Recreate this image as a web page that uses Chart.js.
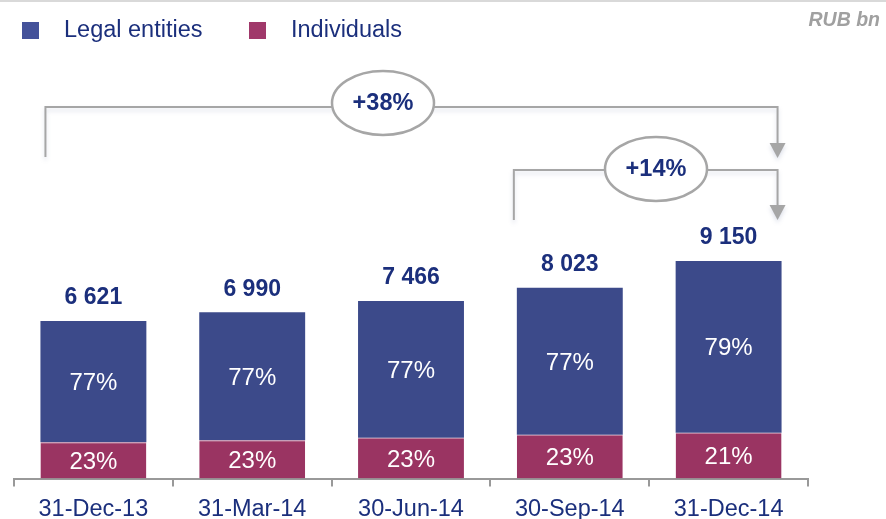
<!DOCTYPE html>
<html>
<head>
<meta charset="utf-8">
<script src="https://cdn.jsdelivr.net/npm/chart.js@4/dist/chart.umd.min.js"></script>
<style>
  html, body { margin: 0; padding: 0; background: #fff; }
  #wrap { width: 886px; height: 519px; position: relative; }
</style>
</head>
<body>
<div id="wrap"><canvas id="portfolio"></canvas></div>
<script>
const categories = ["31-Dec-13", "31-Mar-14", "30-Jun-14", "30-Sep-14", "31-Dec-14"];
const totals = [6621, 6990, 7466, 8023, 9150];
const legalEntities = [5098, 5382, 5749, 6178, 7229];
const individuals = [1523, 1608, 1717, 1845, 1921];
const legalPct = ["77%", "77%", "77%", "77%", "79%"];
const indivPct = ["23%", "23%", "23%", "23%", "21%"];
const growthLabels = ["+38%", "+14%"];

const NAVY = "#1b2f7c";
const GREY = "#a6a6a6";
const FONT = "'Liberation Sans', Arial, sans-serif";

const fmt = (v) => String(v).replace(/\B(?=(\d{3})+(?!\d))/g, " ");

const decor = {
  id: "decor",
  afterDatasetsDraw(chart) {
    const { ctx } = chart;
    const top = chart.getDatasetMeta(1);
    const bottom = chart.getDatasetMeta(0);

    ctx.save();
    ctx.textAlign = "center";
    ctx.textBaseline = "middle";

    // percent labels inside segments
    ctx.fillStyle = "#fff";
    ctx.font = "24px " + FONT;
    top.data.forEach((bar, i) => {
      ctx.fillText(legalPct[i], bar.x, (bar.y + bar.base) / 2 + 2);
    });
    bottom.data.forEach((bar, i) => {
      ctx.fillText(indivPct[i], bar.x, (bar.y + bar.base) / 2 + 2);
    });

    // totals above bars
    ctx.fillStyle = NAVY;
    ctx.font = "bold 23px " + FONT;
    top.data.forEach((bar, i) => {
      ctx.fillText(fmt(totals[i]), bar.x, bar.y - 23);
    });

    // growth brackets
    const b0 = top.data[0], b3 = top.data[3], b4 = top.data[4];
    const rightX = b4.x + b4.width / 2 - 4;
    drawBracket(ctx, b0.x - b0.width / 2 + 5, 157, 107, rightX, 158);
    drawBracket(ctx, b3.x - b3.width / 2 - 3, 220, 170, rightX, 220);
    drawBubble(ctx, 383, 103, 51, 32, growthLabels[0]);
    drawBubble(ctx, 656, 169, 51, 32, growthLabels[1]);

    ctx.restore();
  },
  afterDraw(chart) {
    const { ctx } = chart;
    ctx.save();
    // top rule
    ctx.strokeStyle = "#d9d9d9";
    ctx.lineWidth = 2;
    ctx.beginPath();
    ctx.moveTo(0, 1);
    ctx.lineTo(886, 1);
    ctx.stroke();

    // legend
    ctx.textBaseline = "middle";
    ctx.textAlign = "left";
    ctx.font = "23.5px " + FONT;
    ctx.fillStyle = "#44529a";
    ctx.fillRect(22, 22, 17, 17);
    ctx.fillStyle = NAVY;
    ctx.fillText("Legal entities", 64, 31);
    ctx.fillStyle = "#a0386a";
    ctx.fillRect(249, 22, 17, 17);
    ctx.fillStyle = NAVY;
    ctx.fillText("Individuals", 291, 31);

    // unit
    ctx.textAlign = "right";
    ctx.fillStyle = "#a0a0a0";
    ctx.font = "italic bold 19.5px " + FONT;
    ctx.fillText("RUB bn", 880, 21);
    ctx.restore();
  }
};

function drawBracket(ctx, x1, y1, yTop, x2, yTip) {
  ctx.save();
  ctx.shadowColor = "rgba(120,130,170,0.25)";
  ctx.shadowBlur = 4;
  ctx.shadowOffsetY = 3;
  ctx.strokeStyle = GREY;
  ctx.lineWidth = 2;
  ctx.beginPath();
  ctx.moveTo(x1, y1);
  ctx.lineTo(x1, yTop);
  ctx.lineTo(x2, yTop);
  ctx.lineTo(x2, yTip - 12);
  ctx.stroke();
  ctx.fillStyle = GREY;
  ctx.beginPath();
  ctx.moveTo(x2 - 8, yTip - 15);
  ctx.lineTo(x2 + 8, yTip - 15);
  ctx.lineTo(x2, yTip);
  ctx.closePath();
  ctx.fill();
  ctx.restore();
}

function drawBubble(ctx, cx, cy, rx, ry, text) {
  ctx.save();
  ctx.fillStyle = "#fff";
  ctx.strokeStyle = GREY;
  ctx.lineWidth = 2.5;
  ctx.beginPath();
  ctx.ellipse(cx, cy, rx, ry, 0, 0, Math.PI * 2);
  ctx.fill();
  ctx.stroke();
  ctx.fillStyle = NAVY;
  ctx.font = "bold 23.5px " + FONT;
  ctx.textAlign = "center";
  ctx.textBaseline = "middle";
  ctx.fillText(text, cx, cy + 1);
  ctx.restore();
}

new Chart(document.getElementById("portfolio"), {
  type: "bar",
  data: {
    labels: categories,
    datasets: [
      {
        label: "Individuals",
        data: individuals,
        backgroundColor: "#9a3462",
        borderColor: "#c07a9a",
        borderWidth: { top: 1, left: 0, right: 0, bottom: 0 },
        categoryPercentage: 1,
        barPercentage: 0.667,
      },
      {
        label: "Legal entities",
        data: legalEntities,
        backgroundColor: "#3c4a8a",
        borderWidth: 0,
        categoryPercentage: 1,
        barPercentage: 0.667,
      },
    ],
  },
  options: {
    responsive: true,
    maintainAspectRatio: false,
    animation: false,
    layout: { padding: { left: 14, right: 78, top: 60, bottom: -13 } },
    plugins: {
      legend: { display: false },
      tooltip: { enabled: false },
    },
    scales: {
      x: {
        stacked: true,
        offset: true,
        grid: {
          offset: true,
          drawOnChartArea: false,
          drawTicks: true,
          tickLength: 8,
          color: "#999",
          lineWidth: 2,
        },
        border: { display: true, color: "#999", width: 2 },
        ticks: {
          color: NAVY,
          font: { family: FONT, size: 23.5, lineHeight: 1 },
          padding: 11,
          maxRotation: 0,
        },
      },
      y: {
        stacked: true,
        display: false,
        min: 0,
        max: 17600,
      },
    },
  },
  plugins: [decor],
});
</script>
</body>
</html>
